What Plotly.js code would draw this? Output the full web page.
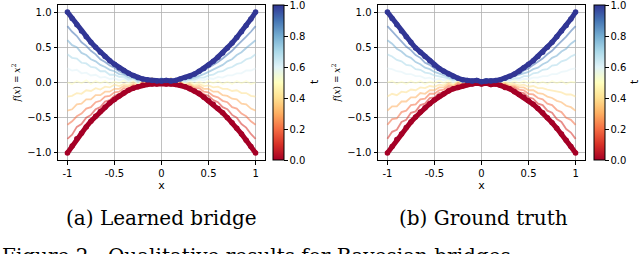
<!DOCTYPE html>
<html>
<head>
<meta charset="utf-8">
<script src="https://cdn.plot.ly/plotly-3.0.1.min.js"></script>
<style>html,body{margin:0;padding:0;background:#fff}#chart{width:640px;height:254px}</style>
</head>
<body>
<div id="chart"></div>
<script>
// ---------- data ----------
const xs = [-1.00,-0.95,-0.90,-0.85,-0.80,-0.75,-0.70,-0.65,-0.60,-0.55,-0.50,-0.45,-0.40,-0.35,-0.30,-0.25,-0.20,-0.15,-0.10,-0.05,0.00,0.05,0.10,0.15,0.20,0.25,0.30,0.35,0.40,0.45,0.50,0.55,0.60,0.65,0.70,0.75,0.80,0.85,0.90,0.95,1.00];
const tLevels = [0.0,0.1,0.2,0.3,0.4,0.5,0.6,0.7,0.8,0.9,1.0];

// (a) Learned bridge
const learnedT00 = [-1.00,-0.90,-0.80,-0.72,-0.63,-0.55,-0.48,-0.41,-0.35,-0.29,-0.24,-0.19,-0.15,-0.11,-0.08,-0.06,-0.04,-0.03,-0.02,-0.02,-0.01,-0.02,-0.02,-0.03,-0.04,-0.06,-0.09,-0.12,-0.16,-0.21,-0.26,-0.31,-0.37,-0.43,-0.50,-0.57,-0.65,-0.73,-0.82,-0.91,-1.00];
const learnedT01 = [-0.80,-0.74,-0.63,-0.59,-0.50,-0.46,-0.38,-0.35,-0.27,-0.25,-0.19,-0.17,-0.12,-0.11,-0.06,-0.06,-0.02,-0.03,0.03,-0.04,0.02,-0.03,0.03,-0.05,-0.02,-0.06,-0.06,-0.11,-0.12,-0.17,-0.19,-0.25,-0.28,-0.35,-0.38,-0.46,-0.50,-0.59,-0.64,-0.73,-0.80];
const learnedT02 = [-0.60,-0.55,-0.48,-0.44,-0.37,-0.35,-0.28,-0.26,-0.20,-0.19,-0.14,-0.13,-0.08,-0.09,-0.04,-0.05,0.02,-0.04,0.05,-0.03,0.04,-0.02,0.05,-0.04,0.01,-0.04,-0.04,-0.08,-0.08,-0.13,-0.14,-0.19,-0.21,-0.26,-0.28,-0.35,-0.37,-0.44,-0.48,-0.55,-0.60];
const learnedT03 = [-0.40,-0.38,-0.31,-0.30,-0.24,-0.24,-0.18,-0.18,-0.13,-0.13,-0.09,-0.09,-0.05,-0.06,-0.02,-0.04,0.03,-0.03,0.06,-0.02,0.05,0.00,0.06,-0.03,0.02,-0.03,-0.02,-0.06,-0.05,-0.09,-0.09,-0.13,-0.13,-0.18,-0.19,-0.23,-0.24,-0.30,-0.31,-0.37,-0.40];
const learnedT04 = [-0.20,-0.19,-0.15,-0.16,-0.11,-0.12,-0.08,-0.10,-0.06,-0.07,-0.03,-0.05,-0.02,-0.04,0.01,-0.03,0.04,-0.02,0.06,-0.01,0.05,0.00,0.05,-0.02,0.02,-0.02,-0.01,-0.04,-0.02,-0.05,-0.04,-0.07,-0.06,-0.09,-0.09,-0.12,-0.11,-0.15,-0.15,-0.19,-0.20];
const learnedT05 = [0.00,-0.02,0.02,-0.01,0.03,-0.02,0.02,-0.01,0.02,-0.02,0.01,-0.01,0.03,-0.01,0.04,-0.02,0.05,0.00,0.06,-0.01,0.05,0.01,0.06,-0.01,0.03,-0.01,0.02,-0.02,0.01,-0.02,0.02,-0.01,0.02,-0.02,0.01,-0.02,0.02,-0.01,0.02,-0.02,0.00];
const learnedT06 = [0.20,0.17,0.18,0.13,0.14,0.10,0.11,0.07,0.08,0.05,0.06,0.03,0.05,0.01,0.04,-0.01,0.05,-0.02,0.05,0.00,0.04,-0.01,0.05,-0.02,0.04,0.00,0.03,0.02,0.04,0.03,0.06,0.05,0.08,0.07,0.10,0.10,0.13,0.13,0.17,0.17,0.20];
const learnedT07 = [0.40,0.35,0.34,0.28,0.27,0.22,0.21,0.16,0.16,0.11,0.11,0.08,0.08,0.04,0.06,0.01,0.05,-0.01,0.05,0.00,0.06,-0.01,0.05,0.00,0.04,0.02,0.04,0.04,0.07,0.07,0.10,0.11,0.15,0.16,0.20,0.22,0.26,0.28,0.33,0.35,0.40];
const learnedT08 = [0.60,0.53,0.50,0.42,0.39,0.33,0.30,0.25,0.22,0.18,0.16,0.12,0.11,0.07,0.07,0.03,0.06,0.00,0.05,0.01,0.06,0.00,0.05,0.01,0.04,0.04,0.05,0.07,0.09,0.12,0.15,0.18,0.22,0.25,0.30,0.33,0.39,0.43,0.49,0.54,0.60];
const learnedT09 = [0.80,0.72,0.66,0.57,0.52,0.45,0.40,0.33,0.29,0.24,0.21,0.16,0.13,0.10,0.08,0.05,0.06,0.02,0.05,0.01,0.05,0.01,0.05,0.02,0.04,0.05,0.07,0.09,0.13,0.16,0.20,0.24,0.29,0.34,0.39,0.45,0.52,0.58,0.65,0.72,0.80];
const learnedT10 = [1.00,0.91,0.82,0.73,0.65,0.57,0.50,0.43,0.37,0.31,0.26,0.21,0.17,0.13,0.10,0.07,0.05,0.04,0.03,0.02,0.02,0.03,0.02,0.03,0.05,0.07,0.09,0.12,0.16,0.20,0.25,0.30,0.36,0.42,0.49,0.56,0.64,0.72,0.81,0.90,1.00];

// (b) Ground truth
const truthT00 = [-1.00,-0.91,-0.81,-0.73,-0.64,-0.56,-0.49,-0.42,-0.36,-0.30,-0.25,-0.20,-0.16,-0.12,-0.09,-0.07,-0.05,-0.03,-0.02,-0.01,-0.02,-0.01,-0.03,-0.02,-0.04,-0.07,-0.09,-0.13,-0.17,-0.21,-0.26,-0.31,-0.37,-0.43,-0.50,-0.57,-0.65,-0.73,-0.82,-0.91,-1.00];
const truthT01 = [-0.80,-0.70,-0.67,-0.56,-0.53,-0.43,-0.41,-0.32,-0.30,-0.22,-0.21,-0.15,-0.14,-0.08,-0.08,-0.03,-0.04,0.02,-0.03,0.03,-0.02,0.02,-0.04,0.02,-0.04,-0.03,-0.08,-0.08,-0.14,-0.15,-0.21,-0.23,-0.30,-0.32,-0.40,-0.43,-0.52,-0.56,-0.66,-0.71,-0.80];
const truthT02 = [-0.60,-0.52,-0.51,-0.42,-0.40,-0.32,-0.31,-0.24,-0.23,-0.16,-0.16,-0.11,-0.10,-0.05,-0.06,-0.01,-0.04,0.03,-0.02,0.04,-0.01,0.03,-0.02,0.03,-0.03,-0.02,-0.06,-0.06,-0.10,-0.11,-0.16,-0.17,-0.22,-0.24,-0.30,-0.32,-0.39,-0.42,-0.50,-0.53,-0.60];
const truthT03 = [-0.40,-0.34,-0.34,-0.27,-0.27,-0.21,-0.21,-0.15,-0.16,-0.11,-0.11,-0.07,-0.07,-0.02,-0.05,0.01,-0.03,0.04,-0.01,0.05,0.00,0.04,-0.01,0.03,-0.02,-0.01,-0.04,-0.04,-0.07,-0.07,-0.11,-0.11,-0.15,-0.16,-0.20,-0.22,-0.26,-0.28,-0.33,-0.35,-0.40];
const truthT04 = [-0.20,-0.16,-0.18,-0.13,-0.14,-0.10,-0.11,-0.07,-0.08,-0.05,-0.06,-0.03,-0.04,0.00,-0.03,0.02,-0.02,0.04,-0.01,0.05,0.01,0.04,-0.01,0.03,-0.01,0.00,-0.02,-0.02,-0.04,-0.03,-0.06,-0.05,-0.08,-0.08,-0.10,-0.11,-0.13,-0.14,-0.17,-0.17,-0.20];
const truthT05 = [0.00,0.02,-0.02,0.01,-0.02,0.02,-0.01,0.02,-0.02,0.01,-0.01,0.03,-0.01,0.04,-0.01,0.03,0.00,0.05,0.00,0.04,0.02,0.05,0.00,0.04,-0.01,0.02,-0.01,0.02,-0.01,0.02,-0.01,0.02,-0.02,0.01,-0.02,0.02,-0.01,0.02,-0.02,0.01,0.00];
const truthT06 = [0.20,0.19,0.16,0.15,0.12,0.12,0.09,0.09,0.06,0.07,0.04,0.05,0.03,0.05,0.00,0.04,0.00,0.05,0.01,0.05,0.02,0.05,0.01,0.05,0.00,0.03,0.02,0.04,0.03,0.05,0.05,0.07,0.07,0.09,0.09,0.12,0.12,0.15,0.16,0.19,0.20];
const truthT07 = [0.40,0.37,0.32,0.30,0.25,0.24,0.19,0.18,0.14,0.13,0.10,0.09,0.07,0.06,0.03,0.05,0.01,0.05,0.00,0.05,0.02,0.05,0.00,0.05,0.02,0.04,0.04,0.06,0.06,0.09,0.09,0.13,0.14,0.18,0.19,0.24,0.25,0.30,0.32,0.37,0.40];
const truthT08 = [0.60,0.55,0.48,0.44,0.38,0.35,0.29,0.26,0.21,0.19,0.15,0.13,0.10,0.08,0.05,0.06,0.02,0.05,0.01,0.05,0.02,0.05,0.01,0.05,0.03,0.05,0.06,0.08,0.10,0.13,0.15,0.19,0.21,0.26,0.29,0.35,0.38,0.44,0.48,0.55,0.60];
const truthT09 = [0.80,0.73,0.65,0.59,0.51,0.46,0.39,0.35,0.28,0.25,0.20,0.17,0.13,0.11,0.07,0.06,0.03,0.05,0.02,0.05,0.03,0.05,0.02,0.05,0.04,0.06,0.07,0.10,0.12,0.17,0.20,0.25,0.29,0.34,0.40,0.45,0.52,0.58,0.65,0.73,0.80];
const truthT10 = [1.00,0.91,0.82,0.73,0.65,0.57,0.49,0.43,0.37,0.31,0.25,0.20,0.16,0.12,0.09,0.06,0.04,0.03,0.02,0.03,0.01,0.02,0.02,0.03,0.04,0.06,0.09,0.12,0.16,0.21,0.26,0.31,0.37,0.43,0.50,0.57,0.65,0.73,0.81,0.90,1.00];

const xTickVals = [-1,-0.5,0,0.5,1];
const xTickText = ['-1','-0.5','0','0.5','1'];
const yTickVals = [-1,-0.5,0,0.5,1];
const yTickText = ['\u22121.0','\u22120.5','0.0','0.5','1.0'];
const cTickVals = [0,0.2,0.4,0.6,0.8,1.0];
const cTickText = ['0.0','0.2','0.4','0.6','0.8','1.0'];
const colorbarLabel = 't';
const captions = ['(a) Learned bridge','(b) Ground truth'];
const figureLine = 'Figure 2:  Qualitative results for Bayesian bridges';

// ---------- styling ----------
const rdylbu = ['#a50026','#d73027','#f46d43','#fdae61','#fee090','#ffffbf','#e0f3f8','#abd9e9','#74add1','#4575b4','#313695'];
const colorscale = rdylbu.map((c,i)=>[i/(rdylbu.length-1), c]);
const learned = [learnedT00,learnedT01,learnedT02,learnedT03,learnedT04,learnedT05,learnedT06,learnedT07,learnedT08,learnedT09,learnedT10];
const truth = [truthT00,truthT01,truthT02,truthT03,truthT04,truthT05,truthT06,truthT07,truthT08,truthT09,truthT10];

const traces = [];
function addPanel(curves, xa, ya) {
  const n = curves.length;
  for (let i = 1; i < n-1; i++) {
    traces.push({x: xs, y: curves[i], xaxis: xa, yaxis: ya, mode: 'lines', type: 'scatter',
      line: {color: rdylbu[i], width: 1.8}, opacity: 0.55, hoverinfo: 'skip'});
  }
  [0, n-1].forEach(i => {
    traces.push({x: xs, y: curves[i], xaxis: xa, yaxis: ya, mode: 'lines+markers', type: 'scatter',
      line: {color: rdylbu[i], width: 5}, marker: {color: rdylbu[i], size: 5.5}, hoverinfo: 'skip'});
  });
}
addPanel(learned, 'x', 'y');
addPanel(truth, 'x2', 'y2');

const fontTick = {family: 'DejaVu Sans', size: 10, color: '#000'};
function cbTrace(xa, ya, xpos) {
  return {x: [null], y: [null], xaxis: xa, yaxis: ya, type: 'scatter', mode: 'markers', hoverinfo: 'skip',
    marker: {color: [tLevels[0], tLevels[tLevels.length-1]], cmin: 0, cmax: 1, colorscale: colorscale, showscale: true, size: 1,
      colorbar: {x: xpos, xanchor: 'left', y: 1-160/254, yanchor: 'bottom', len: 155/254, lenmode: 'fraction',
        thickness: 11, thicknessmode: 'pixels', xpad: 0, ypad: 0, outlinewidth: 1, outlinecolor: '#000',
        tickmode: 'array', tickvals: cTickVals, ticktext: cTickText, ticks: 'outside', ticklen: 3.5, tickcolor: '#000',
        ticklabeloverflow: 'allow', tickfont: fontTick}}};
}
traces.push(cbTrace('x', 'y', 273/640));
traces.push(cbTrace('x2', 'y2', 594/640));

function xAxis(domain, anchor) {
  return {domain: domain, anchor: anchor, range: [-1.1, 1.1], tickvals: xTickVals, ticktext: xTickText,
    showline: true, mirror: true, linecolor: '#000', linewidth: 1, ticks: 'outside', ticklen: 3.5, tickcolor: '#000',
    showgrid: true, gridcolor: '#b0b0b0', gridwidth: 0.8, zeroline: false, tickfont: fontTick,
    title: {text: 'x', font: {family: 'DejaVu Sans', size: 11, color: '#000'}, standoff: 3}};
}
function yAxis(domain, anchor) {
  return {domain: domain, anchor: anchor, range: [-1.1, 1.1], tickvals: yTickVals, ticktext: yTickText,
    showline: true, mirror: true, linecolor: '#000', linewidth: 1, ticks: 'outside', ticklen: 3.5, tickcolor: '#000',
    showgrid: true, gridcolor: '#b0b0b0', gridwidth: 0.8, zeroline: false, tickfont: fontTick,
    title: {text: '<i>f</i>(<i>x</i>) = <i>x</i><sup>2</sup>', font: {family: 'DejaVu Serif', size: 9, color: '#000'}, standoff: 5}};
}
const yDom = [1-160/254, 1-5/254];
const capFont = {family: 'DejaVu Serif', size: 20, color: '#000'};
const layout = {
  width: 640, height: 254, margin: {l: 0, r: 0, t: 0, b: 0},
  paper_bgcolor: '#fff', plot_bgcolor: '#fff', showlegend: false,
  xaxis: xAxis([58/640, 265/640], 'y'), yaxis: yAxis(yDom, 'x'),
  xaxis2: xAxis([378/640, 585/640], 'y2'), yaxis2: yAxis(yDom, 'x2'),
  annotations: [
    {text: colorbarLabel, xref: 'paper', yref: 'paper', x: 314/640, y: 1-82/254, xanchor: 'center', yanchor: 'middle', textangle: -90, showarrow: false,
      font: {family: 'DejaVu Sans', size: 11, color: '#000'}},
    {text: colorbarLabel, xref: 'paper', yref: 'paper', x: 634/640, y: 1-82/254, xanchor: 'center', yanchor: 'middle', textangle: -90, showarrow: false,
      font: {family: 'DejaVu Sans', size: 11, color: '#000'}},
    {text: captions[0], xref: 'paper', yref: 'paper', x: 161/640, y: 1-218/254, xanchor: 'center', yanchor: 'middle', showarrow: false, font: capFont},
    {text: captions[1], xref: 'paper', yref: 'paper', x: 483/640, y: 1-218/254, xanchor: 'center', yanchor: 'middle', showarrow: false, font: capFont},
    {text: figureLine, xref: 'paper', yref: 'paper', x: 0, y: 1-242/254, xanchor: 'left', yanchor: 'top', showarrow: false, font: capFont}
  ]
};
Plotly.newPlot('chart', traces, layout, {staticPlot: true, displayModeBar: false});
</script>
</body>
</html>
